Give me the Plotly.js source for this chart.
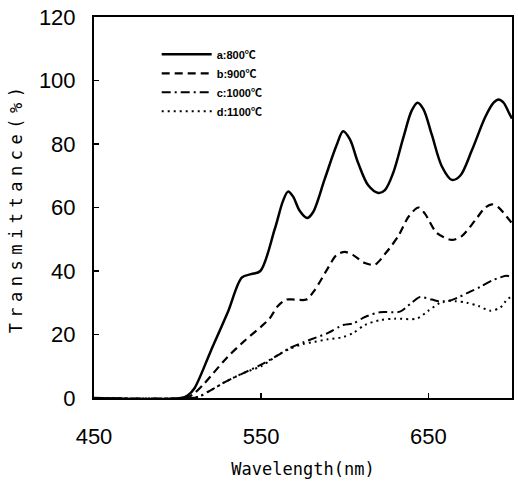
<!DOCTYPE html>
<html>
<head>
<meta charset="utf-8">
<script src="https://cdn.plot.ly/plotly-3.0.1.min.js"></script>
<style>html,body{margin:0;padding:0;background:#fff;}#chart{width:518px;height:481px;}</style>
</head>
<body>
<div id="chart"></div>
<script>
// Series a: 800℃
const xA = [450, 502, 506, 510, 520, 530, 538.5, 544, 549.5, 558, 563, 566, 569, 573, 577.5, 581, 588, 595, 599, 603, 608, 614, 620, 624, 629, 635, 640, 643.5, 647, 652, 658, 664, 669, 676, 684, 689, 692, 695, 698, 700];
const yA = [0, 0, 0.8, 3, 15, 27, 38, 39, 40, 53, 62, 65, 63.5, 59, 56.7, 58.5, 69, 79.5, 84, 81.5, 74, 67, 64.6, 65.5, 71, 82, 90.5, 93, 91, 83, 73, 68.7, 70, 78, 88.5, 93, 94, 93, 90, 88];
// Series b: 900℃
const xB = [450, 505, 510, 515, 520, 530, 540, 550, 555, 560, 565, 570, 577, 582, 590, 595, 600, 605, 612, 618, 625, 632, 638, 644, 648, 655, 664, 670, 678, 684, 688, 692, 697, 700];
const yB = [0, 0, 1.5, 4, 7, 13, 18, 22.5, 25, 29, 31, 31, 31, 34, 41, 45, 46, 45, 42.5, 42, 46, 51, 57, 60, 58, 52, 49.8, 51, 56, 60, 61, 60, 57, 55];
// Series c: 1000℃
const xC = [450, 508, 513, 520, 530, 540, 550, 560, 567, 575, 580, 590, 599, 605, 612, 621, 633, 640, 645, 652, 659, 667, 675, 681, 688, 693, 697, 700];
const yC = [0, 0, 0.5, 2.5, 5.5, 8, 10.5, 13.5, 15.7, 17.5, 18.5, 20.5, 23, 23.5, 25.5, 27, 27.2, 30, 31.8, 31, 30.2, 31.5, 33.5, 35, 37, 38, 38.5, 38];
// Series d: 1100℃
const xD = [450, 508, 513, 520, 530, 540, 550, 560, 567, 575, 580, 590, 599, 605, 612, 621, 630, 643, 650, 659, 666, 673, 680, 687, 693, 697, 700];
const yD = [0, 0, 0.5, 2.5, 5.5, 8, 10, 13.5, 15.5, 17, 17.5, 18.5, 19.2, 20.5, 23, 24.5, 25, 25, 27.5, 30.5, 30.5, 30, 29, 27.5, 28.5, 31, 32];

const seriesNames = ["a:800℃", "b:900℃", "c:1000℃", "d:1100℃"];
const xTicks = [450, 550, 650];
const yTicks = [0, 20, 40, 60, 80, 100, 120];

const traces = [
  {x: xA, y: yA, name: seriesNames[0], line: {color: "#000", width: 2.5, dash: "solid", shape: "spline", smoothing: 0.9}},
  {x: xB, y: yB, name: seriesNames[1], line: {color: "#000", width: 2.2, dash: "8px,5px", shape: "spline", smoothing: 0.8}},
  {x: xC, y: yC, name: seriesNames[2], line: {color: "#000", width: 2, dash: "9px,4px,2px,4px", shape: "spline", smoothing: 0.8}},
  {x: xD, y: yD, name: seriesNames[3], line: {color: "#000", width: 2, dash: "2px,4px", shape: "spline", smoothing: 0.8}}
].map(t => Object.assign({type: "scatter", mode: "lines"}, t));

const tickFont = {family: "Liberation Sans Narrow, Liberation Sans, Arial, sans-serif", size: 22, color: "#000"};
const titleFont = {family: "DejaVu Sans Mono, Liberation Mono, monospace", size: 17, color: "#000"};

const layout = {
  width: 518, height: 481,
  margin: {l: 94, r: 6, t: 17, b: 83},
  paper_bgcolor: "#fff", plot_bgcolor: "#fff",
  showlegend: true,
  legend: {x: 0.15, y: 0.94, xanchor: "left", yanchor: "top", bgcolor: "rgba(0,0,0,0)",
           font: {family: "Liberation Sans, Noto Sans CJK SC, sans-serif", size: 11, color: "#000", weight: "bold"},
           itemwidth: 50, tracegroupgap: 0},
  xaxis: {range: [450, 700], tickvals: xTicks, ticktext: xTicks.map(String), ticks: "inside", ticklen: 5, tickwidth: 1.5, tickcolor: "#000",
          showline: true, linecolor: "#000", linewidth: 2, mirror: true, showgrid: false, zeroline: false,
          tickfont: tickFont, ticklabelstandoff: 18,
          title: {text: "Wavelength(nm)", font: titleFont, standoff: 15}},
  yaxis: {range: [0, 120], tickvals: yTicks, ticktext: yTicks.map(String), ticks: "inside", ticklen: 5, tickwidth: 1.5, tickcolor: "#000",
          showline: true, linecolor: "#000", linewidth: 2, mirror: true, showgrid: false, zeroline: false,
          tickfont: tickFont, ticklabelstandoff: 12,
          title: {text: "<span style=\"letter-spacing:5.5px\">Transmittance(%)</span>", font: titleFont, standoff: 12}}
};

Plotly.newPlot("chart", traces, layout, {displayModeBar: false, staticPlot: true});
</script>
</body>
</html>
